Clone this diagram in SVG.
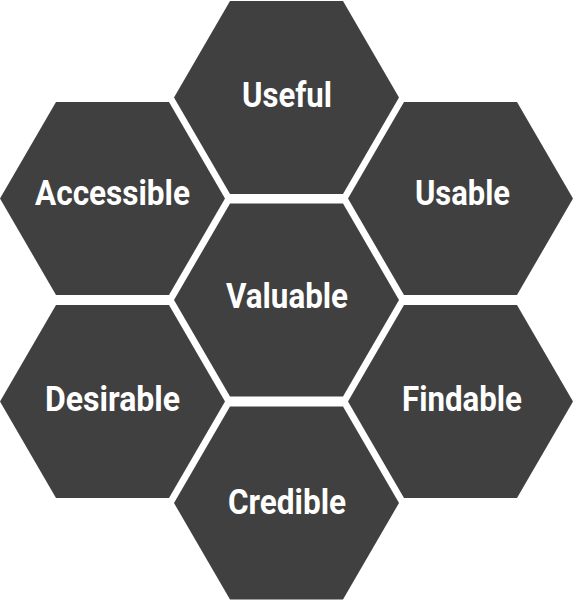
<svg xmlns="http://www.w3.org/2000/svg" width="573" height="600" viewBox="0 0 573 600">
  <style>
    .hex { fill: #404040; }
    .lbl { fill: #ffffff; font-family: Roboto, "Liberation Sans", sans-serif; font-weight: bold; font-size: 35px; text-anchor: middle; }
  </style>
  <defs>
    <polygon id="hexshape" points="-112.5,0 -56.5,-96.5 56.5,-96.5 112.5,0 56.5,96.5 -56.5,96.5"/>
  </defs>
  <rect width="573" height="600" fill="#ffffff"/>
  <g id="useful">
    <use href="#hexshape" class="hex" x="286.5" y="97.5"/>
    <text class="lbl" x="287" y="107" textLength="90" lengthAdjust="spacingAndGlyphs">Useful</text>
  </g>
  <g id="accessible">
    <use href="#hexshape" class="hex" x="112.5" y="198.5"/>
    <text class="lbl" x="112.5" y="205" textLength="155" lengthAdjust="spacingAndGlyphs">Accessible</text>
  </g>
  <g id="usable">
    <use href="#hexshape" class="hex" x="460.5" y="198.5"/>
    <text class="lbl" x="462.5" y="205" textLength="95" lengthAdjust="spacingAndGlyphs">Usable</text>
  </g>
  <g id="valuable">
    <use href="#hexshape" class="hex" x="286.5" y="300"/>
    <text class="lbl" x="287" y="308" textLength="122" lengthAdjust="spacingAndGlyphs">Valuable</text>
  </g>
  <g id="desirable">
    <use href="#hexshape" class="hex" x="112.5" y="401.5"/>
    <text class="lbl" x="112.5" y="411" textLength="135" lengthAdjust="spacingAndGlyphs">Desirable</text>
  </g>
  <g id="findable">
    <use href="#hexshape" class="hex" x="460.5" y="401.5"/>
    <text class="lbl" x="462" y="411" textLength="120" lengthAdjust="spacingAndGlyphs">Findable</text>
  </g>
  <g id="credible">
    <use href="#hexshape" class="hex" x="286.5" y="503"/>
    <text class="lbl" x="287" y="514" textLength="118" lengthAdjust="spacingAndGlyphs">Credible</text>
  </g>
  <g id="connectors"></g>
</svg>
